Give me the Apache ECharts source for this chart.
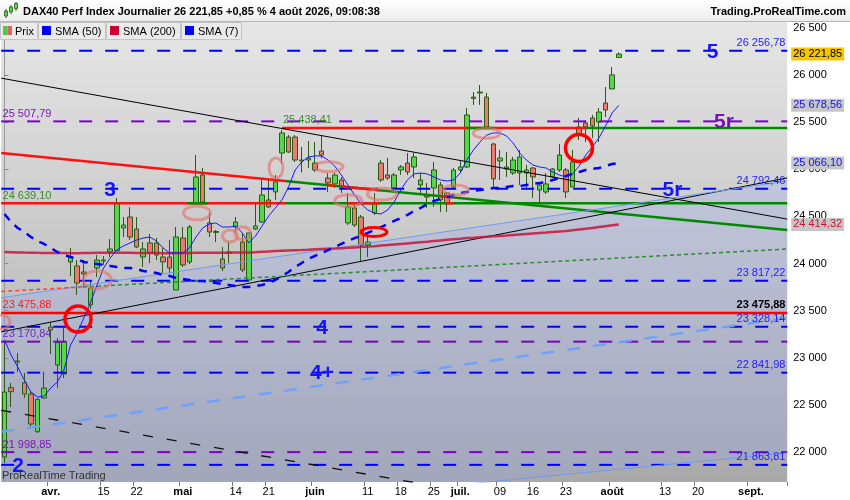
<!DOCTYPE html>
<html><head><meta charset="utf-8">
<script src="https://cdn.jsdelivr.net/npm/echarts@6/dist/echarts.min.js"></script>
<style>html,body{margin:0;padding:0;background:#fff;}#c{width:850px;height:500px;}</style>
</head><body><div id="c"></div>
<script>
// ---------- DATA ----------
const dates = [
'2026-03-23','2026-03-24','2026-03-25','2026-03-26','2026-03-27','2026-03-30','2026-03-31',
'2026-04-01','2026-04-02','2026-04-07','2026-04-08','2026-04-09','2026-04-10','2026-04-13','2026-04-14','2026-04-15','2026-04-16','2026-04-17','2026-04-20','2026-04-21','2026-04-22','2026-04-23','2026-04-24','2026-04-27','2026-04-28','2026-04-29','2026-04-30',
'2026-05-04','2026-05-05','2026-05-06','2026-05-07','2026-05-08','2026-05-11','2026-05-12','2026-05-13','2026-05-14','2026-05-15','2026-05-18','2026-05-19','2026-05-20','2026-05-21','2026-05-22','2026-05-25','2026-05-26','2026-05-27','2026-05-28','2026-05-29',
'2026-06-01','2026-06-02','2026-06-03','2026-06-04','2026-06-05','2026-06-08','2026-06-09','2026-06-10','2026-06-11','2026-06-12','2026-06-15','2026-06-16','2026-06-17','2026-06-18','2026-06-19','2026-06-22','2026-06-23','2026-06-24','2026-06-25','2026-06-26','2026-06-29','2026-06-30',
'2026-07-01','2026-07-02','2026-07-03','2026-07-06','2026-07-07','2026-07-08','2026-07-09','2026-07-10','2026-07-13','2026-07-14','2026-07-15','2026-07-16','2026-07-17','2026-07-20','2026-07-21','2026-07-22','2026-07-23','2026-07-24','2026-07-27','2026-07-28','2026-07-29','2026-07-30','2026-07-31',
'2026-08-03','2026-08-04','2026-08-05','2026-08-06','2026-08-07','2026-08-10','2026-08-11','2026-08-12','2026-08-13','2026-08-14','2026-08-17','2026-08-18','2026-08-19','2026-08-20','2026-08-21','2026-08-24','2026-08-25','2026-08-26','2026-08-27','2026-08-28','2026-08-31',
'2026-09-01','2026-09-02','2026-09-03','2026-09-04','2026-09-07','2026-09-08'];

const xLabelDates = ['2026-04-01','2026-04-15','2026-04-22','2026-05-04','2026-05-14','2026-05-21','2026-06-01','2026-06-11','2026-06-18','2026-06-25','2026-07-01','2026-07-09','2026-07-16','2026-07-23','2026-08-03','2026-08-13','2026-08-20','2026-09-01'];
const xLabelTexts = ['avr.','15','22','mai','14','21','juin','11','18','25','juil.','09','16','23','août','13','20','sept.'];
const monthTexts = ['avr.','mai','juin','juil.','août','sept.'];

// [open, close, low, high]
const candles = [
[21947,22636,21883,23188],[22682,22640,22477,22732],[22955,22966,22849,23050],[22735,22615,22573,22838],[22615,22297,22255,22640],
[22215,22559,22205,22570],[22573,22679,22562,22852],[23326,23294,23040,23379],[22923,23160,22679,23210],[22827,23170,22785,23316],
[24016,24072,23867,24164],[23974,23793,23666,24037],[23910,23889,23751,24037],[23560,23740,23517,23825],[23952,24037,23857,24090],
[24026,24037,23984,24079],[24125,24154,24069,24260],[24136,24642,24133,24695],[24377,24408,24281,24493],[24493,24281,24249,24599],
[24366,24175,24164,24493],[24069,24154,23963,24228],[24218,24111,24005,24313],[24218,24090,24037,24271],[24069,24016,23899,24164],
[24069,23952,23899,24249],[23719,24281,23719,24387],[24271,23984,23963,24387],[24016,24387,23994,24408],[24631,24918,24631,25151],
[24939,24652,24642,25013],[24430,24334,24281,24536],[24330,24340,24228,24355],[24048,23952,23920,24175],[24111,24122,24005,24228],
[24387,24440,24324,24493],[24228,23931,23910,24324],[23825,24324,23804,24324],[24366,24398,24355,24642],[24440,24727,24430,24886],
[24674,24600,24589,24886],[24759,24865,24674,24939],[25172,25385,25066,25416],[25342,25183,25172,25363],[25342,25098,25077,25363],
[25098,25088,24966,25236],[25098,25119,25013,25300],[25066,24992,24971,25289],[25193,25151,25119,25353],[24907,24854,24759,24960],
[24844,24939,24801,24960],[24886,24812,24748,24918],[24430,24599,24408,24748],[24589,24408,24387,24642],[24493,24196,24016,24515],
[24196,24228,24069,24324],[24536,24642,24515,24748],[25066,24886,24865,25098],[24939,24907,24886,25119],[24801,24939,24759,24960],
[24992,25024,24939,25045],[25066,24971,24939,25172],[25024,25130,24907,25172],[24833,24886,24727,24960],[24727,24706,24589,24854],
[24801,24992,24600,25077],[24833,24674,24546,24865],[24748,24642,24546,24759],[24812,24992,24801,25013],[24992,25024,24960,25098],
[25024,25576,25013,25650],[25751,25766,25682,25819],[25809,25819,25682,25894],[25766,25448,25438,25809],[25268,24897,24812,25279],
[25088,25119,24886,25204],[25003,25024,24918,25183],[24960,25098,24939,25130],[24960,25130,24833,25204],[24960,24992,24780,25045],
[25013,24918,24695,25024],[24780,24833,24642,24854],[24759,24844,24737,24960],[24918,25003,24907,25013],[24992,25151,24971,25268],
[24992,24759,24695,25013],[24812,25077,24812,25204],[25448,25363,25310,25544],[25491,25448,25289,25522],[25544,25459,25332,25576],
[25501,25607,25289,25650],[25703,25629,25554,25873],[25852,26001,25852,26085],[26185,26221.85,26180,26240]];

const sma7 = [23188,23029,22902,22764,22637,22584,22594,22679,22743,22870,
23135,23263,23422,23581,23772,23952,24058,24143,24186,24218,
24249,24271,24281,24239,24165,24112,24112,24112,24165,24281,
24377,24419,24430,24387,24387,24398,24324,24218,24292,24398,
24504,24589,24674,24812,24992,25077,25130,25141,25141,25098,
25034,24939,24833,24727,24631,24568,24536,24525,24568,24653,
24780,24886,24950,24960,24950,24918,24886,24875,24886,24960,
25098,25204,25289,25363,25385,25385,25353,25279,25172,25098,
25045,25024,25013,24971,24939,24918,24950,25034,25151,25236,
25332,25459,25597,25678.56];

const sma50 = [24525,24440,24377,24334,24281,24239,24207,24165,24122,24090,
24069,24048,24016,24005,23995,23984,23974,23963,23952,23952,
23942,23920,23910,23899,23878,23867,23846,23836,23825,23814,
23814,23804,23793,23783,23772,23761,23751,23751,23761,23772,
23793,23825,23867,23910,23963,24005,24048,24080,24111,24143,
24175,24207,24239,24270,24292,24324,24355,24387,24419,24451,
24483,24515,24557,24589,24631,24663,24684,24706,24727,24748,
24759,24769,24780,24790,24801,24801,24812,24822,24822,24833,
24844,24854,24865,24886,24907,24928,24950,24971,24992,25003,
25013,25034,25056,25066.10];

const sma200 = [24122,24120,24118,24116,24115,24113,24112,24112,24111,24111,
24110,24110,24111,24112,24113,24114,24114,24115,24114,24113,
24112,24112,24111,24111,24110,24110,24111,24112,24112,24113,
24114,24114,24115,24115,24115,24116,24117,24118,24120,24124,
24128,24133,24136,24139,24141,24143,24146,24150,24153,24156,
24159,24163,24167,24171,24175,24180,24184,24190,24195,24201,
24207,24213,24219,24225,24231,24239,24245,24251,24257,24263,
24270,24274,24279,24283,24288,24292,24297,24303,24308,24313,
24318,24323,24328,24334,24340,24345,24352,24360,24368,24376,
24387,24396,24405,24414.32];

const blueLevels = [26256.78, 24792.46, 23817.22, 23328.14, 22841.98, 21863.81];
const purpleLevels = [25507.79, 23170.84, 21998.85];
const redLevel = 23475.88;
const level25438 = 25438.41;
const level24639 = 24639.10;

// trend lines: [[x-index, price],[x-index, price]]
const blackDown = [[-0.5,25966],[118.5,24471]];
const redGreenDownRed = [[-0.5,25171],[42.47,24876]];
const redGreenDownGreen = [[42.47,24876],[118.5,24355]];
const redTicksOnDown = [[[48.83,24833],[50.04,24824]],[[51.1,24818],[56.85,24778]],[[66.24,24714],[67.9,24702]]];
const blackUp = [[-0.5,23275],[118.5,24908]];
const lightBlueUp = [[-0.5,23636],[118.5,24876]];
const lightBlueDash = [[-0.5,22214],[118.5,23423]];
const lightBlueLow = [[59.88,21593],[118.5,21989]];
const dotRed = [[-0.5,23704],[11.88,23751]];
const dotGreen = [[11.88,23751],[118.5,24154]];
const blackDash = [[-0.5,22443],[68.96,21592]];
const Y_MIN = 21682, Y_MAX = 26562;
const channel = [[-0.5,23636],[118.5,24876],[118.5,21989],[73.05,Y_MIN],[-0.5,Y_MIN]];

const redRings = [[11.13,23411],[86.98,25225]];
const redOval = [[55.94,24334]];
const pinkOvals = [[29.14,24536],[34.14,24292],[36.06,24320],[41.1,25013],[14.05,23825],[-0.38,23379],[49.13,25027],[52.05,24666],[57.15,24737],[68.31,24780],[73.0,25381]];

const notes = [
 ['26 256,78',118.24,26256.78,'rb'],['24 792,46',118.24,24792.46,'rb'],['23 817,22',118.24,23817.22,'rb'],
 ['23 475,88',118.24,23475.88,'rk'],['23 328,14',118.24,23328.14,'rb'],['22 841,98',118.24,22841.98,'rb'],['21 863,81',118.24,21863.81,'rb'],
 ['25 507,79',-0.3,25507.79,'lp'],['24 639,10',-0.3,24639.10,'lg'],['23 475,88',-0.3,23475.88,'lr'],['23 170,84',-0.3,23170.84,'lp2'],['21 998,85',-0.3,21998.85,'lp'],
 ['25 438,41',42.16,25438.41,'lg'],
 ['5',107.19,26256.78,'bb'],['5r',108.93,25507.79,'bp'],['5r',101.14,24792.46,'bb'],['3',15.97,24792.46,'bb'],
 ['4',48.07,23328.14,'bb'],['4+',48.07,22841.98,'bb'],['2',2.04,21863.81,'bb']];

// ---------- STYLE ----------
const FF = "'Liberation Sans', Arial, sans-serif";
const noteStyle = {
 rb:{font:'11px '+FF, fill:'#1e1eff', align:'right', va:'bottom', dy:-2},
 rk:{font:'bold 11px '+FF, fill:'#000', align:'right', va:'bottom', dy:-2},
 lp:{font:'11px '+FF, fill:'#7d14b4', align:'left', va:'bottom', dy:-2},
 lp2:{font:'11px '+FF, fill:'#6a2cb8', align:'left', va:'bottom', dy:-2},
 lg:{font:'11px '+FF, fill:'#3a8a2e', align:'left', va:'bottom', dy:-2},
 lr:{font:'11px '+FF, fill:'#ff2020', align:'left', va:'bottom', dy:-2},
 bb:{font:'bold 21px '+FF, fill:'#1414ff', align:'center', va:'middle', dy:1},
 bp:{font:'bold 21px '+FF, fill:'#7a10b8', align:'center', va:'middle', dy:1}
};

function seg(pts, ls, z){
  return {type:'line', xAxisIndex:1, yAxisIndex:0, data:pts, symbol:'none', silent:true, clip:true, z:z||3, lineStyle:ls};
}
const series = [];
// channel fill
series.push({type:'custom', xAxisIndex:1, yAxisIndex:0, z:1, silent:true, clip:true, data:[[0,Y_MIN]],
  renderItem:(p,api)=>({type:'polygon', shape:{points:channel.map(c=>api.coord(c))}, style:{fill:'rgba(140,160,255,0.22)'}})});
// candles
series.push({type:'candlestick', name:'Prix', xAxisIndex:0, yAxisIndex:0, data:candles, barWidth:5, z:2,
  itemStyle:{color:'#52d84a', color0:'#ec7a6e', borderColor:'#2b5a18', borderColor0:'#2b5a18', borderWidth:1},
  markLine:{silent:true, symbol:'none', lineStyle:{color:'transparent', width:0},
    label:{show:true, position:'end', distance:4, formatter:'26 221,85', backgroundColor:'#f6c400', color:'#000', fontSize:11, fontFamily:FF, padding:[1,2]},
    data:[{yAxis:26221.85}]}});
// levels
blueLevels.forEach(v=>series.push(seg([[-0.5,v],[118.5,v]],{color:'#0000ff',width:2,type:[13,13]})));
purpleLevels.forEach(v=>series.push(seg([[-0.5,v],[118.5,v]],{color:'#7d00c8',width:2,type:[13,13]})));
series.push(seg([[-0.5,redLevel],[118.5,redLevel]],{color:'#ff0000',width:2.5}));
series.push(seg([[42.0,level25438],[87.9,level25438]],{color:'#ff1010',width:2.5}));
series.push(seg([[87.9,level25438],[118.5,level25438]],{color:'#008a00',width:2.5}));
series.push(seg([[70.02,level25438],[73.96,level25438]],{color:'#008a00',width:2.5},4));
series.push(seg([[-0.5,level24639],[42.47,level24639]],{color:'#ff1010',width:2.5}));
series.push(seg([[42.47,level24639],[118.5,level24639]],{color:'#008a00',width:2.5}));
series.push(seg([[27.63,level24639],[30.81,level24639]],{color:'#008a00',width:2.5},4));
series.push(seg([[52.01,level24639],[56.85,level24639]],{color:'#ff1010',width:2.5},4));
series.push(seg([[66.69,level24639],[67.9,level24639]],{color:'#ff1010',width:2.5},4));
// trend lines
series.push(seg(blackDown,{color:'#000',width:1}));
series.push(seg(redGreenDownRed,{color:'#ff1010',width:2.5}));
series.push(seg(redGreenDownGreen,{color:'#008a00',width:2.5}));
redTicksOnDown.forEach(s=>series.push(seg(s,{color:'#ff1010',width:2.5},4)));
series.push(seg(blackUp,{color:'#000',width:1}));
series.push(seg(lightBlueUp,{color:'#6d9cf0',width:1}));
series.push(seg(lightBlueDash,{color:'#6fa2f6',width:2.5,type:[13,13]}));
series.push(seg(lightBlueLow,{color:'#6d9cf0',width:1}));
series.push(seg(dotRed,{color:'#ff4040',width:1.5,type:[4,3]}));
series.push(seg(dotGreen,{color:'#2e8b2e',width:1.5,type:[4,3]}));
series.push(seg(blackDash,{color:'#111',width:1.3,type:[10,14]}));
// moving averages
series.push({type:'line', name:'SMA (200)', xAxisIndex:0, yAxisIndex:0, data:sma200, symbol:'none', z:4, lineStyle:{color:'#c8143c',width:2.5,opacity:0.85},
  markLine:{silent:true, symbol:'none', lineStyle:{color:'transparent',width:0},
    label:{show:true, position:'end', distance:4, formatter:'24 414,32', backgroundColor:'#c6c6c6', color:'#d0103a', fontSize:11, fontFamily:FF, padding:[1,2]},
    data:[{yAxis:24414.32}]}});
series.push({type:'line', name:'SMA (50)', xAxisIndex:0, yAxisIndex:0, data:sma50, symbol:'none', z:4, lineStyle:{color:'#0000ff',width:2.5,type:[8,7]},
  markLine:{silent:true, symbol:'none', lineStyle:{color:'transparent',width:0},
    label:{show:true, position:'end', distance:4, formatter:'25 066,10', backgroundColor:'#c6c6c6', color:'#1010ff', fontSize:11, fontFamily:FF, padding:[1,2]},
    data:[{yAxis:25066.10}]}});
series.push({type:'line', name:'SMA (7)', xAxisIndex:0, yAxisIndex:0, data:sma7, symbol:'none', z:4, lineStyle:{color:'#1a1aff',width:1},
  markLine:{silent:true, symbol:'none', lineStyle:{color:'transparent',width:0},
    label:{show:true, position:'end', distance:4, formatter:'25 678,56', backgroundColor:'#c6c6c6', color:'#1010ff', fontSize:11, fontFamily:FF, padding:[1,2]},
    data:[{yAxis:25678.56}]}});
// ovals
function ovalSeries(list, rx, ry, stroke, lw){
  return {type:'custom', xAxisIndex:1, yAxisIndex:0, z:5, silent:true, data:list,
    renderItem:(p,api)=>{const c=api.coord([api.value(0),api.value(1)]);
      return {type:'ellipse', shape:{cx:c[0],cy:c[1],rx:rx[p.dataIndex],ry:ry[p.dataIndex]}, style:{fill:'none',stroke:stroke,lineWidth:lw}};}};
}
series.push(ovalSeries(pinkOvals,[13.5,7.5,8,7,14,8,14,13.5,14.5,12.5,13.5],[7,6,6.5,10,9,7,5,6,6,5,5],'rgba(226,112,104,0.6)',3));
series.push(ovalSeries(redRings,[13,13.5],[13,13.5],'#ff0000',3.5));
series.push(ovalSeries(redOval,[13],[4.5],'#ff0000',3));
// texts
series.push({type:'custom', xAxisIndex:1, yAxisIndex:0, z:6, silent:true, data:notes.map(n=>[n[1],n[2]]),
  renderItem:(p,api)=>{const n=notes[p.dataIndex]; const s=noteStyle[n[3]]; const c=api.coord([n[1],n[2]]);
    return {type:'text', x:c[0], y:c[1]+s.dy, style:{text:n[0], font:s.font, fill:s.fill, align:s.align, verticalAlign:s.va}};}});

const hdrGrad = {type:'linear',x:0,y:0,x2:0,y2:1,colorStops:[{offset:0,color:'#ffffff'},{offset:1,color:'#ebebeb'}]};
const legendItems = [[0,37,'Prix',null],[38,67,'SMA (50)','#0000ff'],[106,74,'SMA (200)','#cc0033'],[181,60,'SMA (7)','#0000ff']];
const graphic = [
 {type:'rect', shape:{x:0,y:0,width:850,height:22}, style:{fill:hdrGrad}, z:10},
 {type:'line', shape:{x1:0,y1:21.5,x2:850,y2:21.5}, style:{stroke:'#b4b4b4',lineWidth:1}, z:11},
 {type:'line', shape:{x1:6,y1:9,x2:6,y2:18}, style:{stroke:'#2b5a18',lineWidth:1}, z:11},
 {type:'rect', shape:{x:4.5,y:11,width:3,height:5}, style:{fill:'#52d84a',stroke:'#2b5a18',lineWidth:0.8}, z:12},
 {type:'line', shape:{x1:11,y1:5,x2:11,y2:14}, style:{stroke:'#2b5a18',lineWidth:1}, z:11},
 {type:'rect', shape:{x:9.5,y:7,width:3,height:5}, style:{fill:'#52d84a',stroke:'#2b5a18',lineWidth:0.8}, z:12},
 {type:'line', shape:{x1:16,y1:2,x2:16,y2:11}, style:{stroke:'#2b5a18',lineWidth:1}, z:11},
 {type:'rect', shape:{x:14.5,y:3.5,width:3,height:5}, style:{fill:'#52d84a',stroke:'#2b5a18',lineWidth:0.8}, z:12},
 {type:'text', x:23, y:12, style:{text:'DAX40 Perf Index Journalier 26 221,85 +0,85 % 4 août 2026, 09:08:38', font:'bold 11px '+FF, fill:'#000', verticalAlign:'middle'}, z:12},
 {type:'text', x:846, y:12, style:{text:'Trading.ProRealTime.com', font:'bold 11px '+FF, fill:'#000', align:'right', verticalAlign:'middle'}, z:12},
 {type:'text', x:2, y:476, style:{text:'ProRealTime Trading', font:'11px '+FF, fill:'#333', verticalAlign:'middle'}, z:12}
];
legendItems.forEach(([x,w,t,c])=>{
  graphic.push({type:'rect', shape:{x:x+0.5,y:22.5,width:w,height:17}, style:{fill:'#eaeaea',stroke:'#c4c4c4',lineWidth:1}, z:12});
  if(c){ graphic.push({type:'rect', shape:{x:x+4,y:26,width:9,height:9}, style:{fill:c}, z:13}); }
  else { graphic.push({type:'rect', shape:{x:x+3,y:26,width:4.5,height:9}, style:{fill:'#4cc84c'}, z:13});
         graphic.push({type:'rect', shape:{x:x+7.5,y:26,width:4.5,height:9}, style:{fill:'#e46060'}, z:13}); }
  graphic.push({type:'text', x:x+(c?17:15), y:31.5, style:{text:t, font:'11px '+FF, fill:'#000', verticalAlign:'middle'}, z:13});
});

const isLabel = (i,v)=>xLabelDates.indexOf(v)>=0;
const option = {
  animation:false,
  backgroundColor:'#ffffff',
  grid:{left:1.2, right:62.8, top:22, bottom:18, show:true, borderWidth:0,
    backgroundColor:{type:'linear',x:0,y:0,x2:0,y2:1,colorStops:[{offset:0,color:'#e6e6e6'},{offset:1,color:'#a9a9a9'}]}},
  xAxis:[
    {type:'category', data:dates, boundaryGap:true, axisLine:{show:false},
     axisTick:{show:true, interval:isLabel, length:4, lineStyle:{color:'#777'}},
     axisLabel:{interval:isLabel, margin:4, fontSize:11, fontFamily:FF, color:'#000',
       formatter:(v)=>{const k=xLabelDates.indexOf(v); if(k<0) return ''; const t=xLabelTexts[k]; return monthTexts.indexOf(t)>=0?'{b|'+t+'}':t;},
       rich:{b:{fontWeight:'bold',fontSize:11,fontFamily:FF,color:'#000'}}},
     splitLine:{show:false}},
    {type:'value', min:-0.5, max:118.5, show:false}
  ],
  yAxis:[{type:'value', position:'right', min:Y_MIN, max:Y_MAX, splitNumber:10, scale:true,
    splitLine:{show:false}, axisLine:{show:true, lineStyle:{color:'#999'}},
    axisTick:{show:true, length:4, lineStyle:{color:'#888'}},
    axisLabel:{fontSize:11, fontFamily:FF, color:'#000', margin:6, showMinLabel:false, showMaxLabel:false,
      formatter:(v)=>String(Math.round(v)).replace(/\B(?=(\d{3})+(?!\d))/g,' ')}}],
  graphic:graphic,
  series:series
};
const chart = echarts.init(document.getElementById('c'), null, {renderer:'canvas'});
chart.setOption(option);
</script></body></html>
